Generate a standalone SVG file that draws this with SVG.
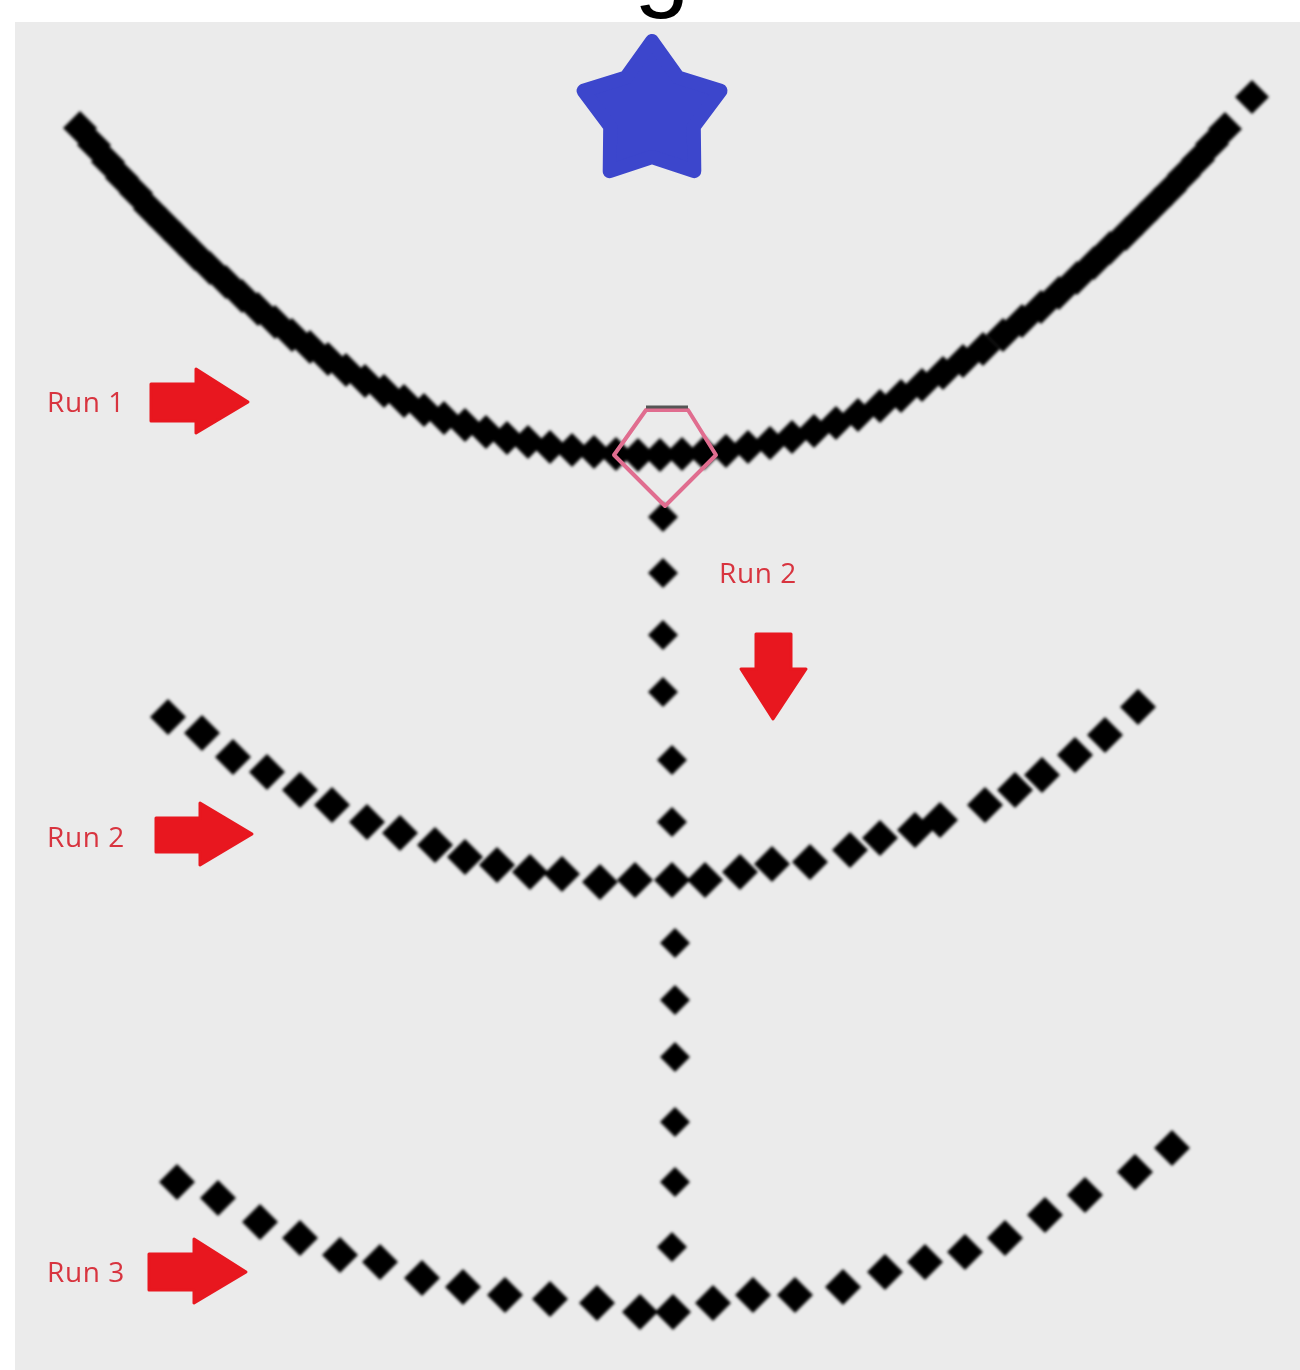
<svg xmlns="http://www.w3.org/2000/svg" xmlns:xlink="http://www.w3.org/1999/xlink" width="1300" height="1370" viewBox="0 0 1300 1370">
<style>
.lbl{font-family:"Open Sans","Noto Sans",sans-serif;font-size:28px;letter-spacing:0.6px;fill:#d8343f}
.arr{fill:#e8171f;stroke:#e8171f;stroke-width:3;stroke-linejoin:round}
.dots{fill:#000;filter:url(#soft)}
</style>
<defs>
<filter id="soft" x="-10%" y="-10%" width="120%" height="120%"><feGaussianBlur stdDeviation="1.6"/></filter>
<path id="a" d="M0,-17L17,0L0,17L-17,0Z"/>
<path id="b" d="M0,-18L18,0L0,18L-18,0Z"/>
<path id="c" d="M0,-15L15,0L0,15L-15,0Z"/>
</defs>
<rect x="0" y="0" width="1300" height="1370" fill="#ffffff"/>
<rect id="background" x="15" y="22" width="1285" height="1348" fill="#ebebeb"/>
<g id="title"><text x="634" y="-2" font-family="Liberation Sans,Arial,sans-serif" font-size="100" fill="#000">g</text></g>
<g id="star"><path d="M652,41L677.9,77.4L720.5,90.8L693.8,126.6L694.3,171.2L652,157L609.7,171.2L610.2,126.6L583.5,90.8L626.1,77.4Z" fill="#3c46cc" stroke="#3c46cc" stroke-width="14" stroke-linejoin="round"/></g>
<g id="run1-curve" class="dots">
<use href="#a" x="80" y="128"/><use href="#a" x="94" y="145"/><use href="#a" x="108" y="162"/><use href="#a" x="122" y="178"/><use href="#a" x="136" y="193"/><use href="#a" x="150" y="209"/><use href="#a" x="165" y="224"/><use href="#a" x="180" y="239"/><use href="#a" x="195" y="254"/><use href="#a" x="210" y="268"/><use href="#a" x="226" y="282"/><use href="#a" x="242" y="296"/><use href="#a" x="258" y="309"/><use href="#a" x="275" y="322"/><use href="#a" x="292" y="335"/><use href="#a" x="310" y="347"/><use href="#a" x="328" y="359"/><use href="#a" x="346" y="370"/><use href="#a" x="365" y="381"/><use href="#a" x="384" y="391"/><use href="#a" x="404" y="401"/><use href="#a" x="424" y="410"/><use href="#a" x="444" y="418"/><use href="#a" x="465" y="425"/><use href="#a" x="486" y="432"/><use href="#a" x="507" y="438"/><use href="#a" x="528" y="442"/><use href="#a" x="550" y="447"/><use href="#a" x="572" y="450"/><use href="#a" x="594" y="452"/><use href="#a" x="616" y="454"/><use href="#a" x="638" y="455"/><use href="#a" x="660" y="455"/>
<use href="#a" x="682" y="454"/><use href="#a" x="704" y="453"/><use href="#a" x="726" y="451"/><use href="#a" x="748" y="447"/><use href="#a" x="770" y="443"/><use href="#a" x="792" y="437"/><use href="#a" x="814" y="431"/><use href="#a" x="836" y="423"/><use href="#a" x="858" y="415"/><use href="#a" x="880" y="406"/><use href="#a" x="901" y="396"/><use href="#a" x="922" y="385"/><use href="#a" x="943" y="373"/><use href="#a" x="963" y="361"/><use href="#a" x="983" y="349"/><use href="#a" x="1003" y="335"/><use href="#a" x="1022" y="321"/><use href="#a" x="1041" y="307"/><use href="#a" x="1059" y="293"/><use href="#a" x="1077" y="278"/><use href="#a" x="1094" y="263"/><use href="#a" x="1110" y="248"/><use href="#a" x="1126" y="234"/><use href="#a" x="1141" y="219"/><use href="#a" x="1156" y="204"/><use href="#a" x="1170" y="190"/><use href="#a" x="1184" y="175"/><use href="#a" x="1198" y="160"/><use href="#a" x="1212" y="144"/><use href="#a" x="1225" y="129"/><use href="#a" x="1252" y="97"/>
</g>
<g id="vertical-run" class="dots">
<use href="#c" x="663" y="517"/><use href="#c" x="663" y="573"/><use href="#c" x="663" y="635"/><use href="#c" x="663" y="692"/><use href="#c" x="672" y="760"/><use href="#c" x="672" y="822"/><use href="#c" x="675" y="943"/><use href="#c" x="675" y="1000"/><use href="#c" x="675" y="1057"/><use href="#c" x="675" y="1122"/><use href="#c" x="675" y="1182"/><use href="#c" x="672" y="1247"/>
</g>
<g id="run2-curve" class="dots">
<use href="#b" x="168" y="717"/><use href="#b" x="202" y="733"/><use href="#b" x="233" y="757"/><use href="#b" x="267" y="772"/><use href="#b" x="300" y="790"/><use href="#b" x="332" y="805"/><use href="#b" x="367" y="822"/><use href="#b" x="400" y="833"/><use href="#b" x="435" y="845"/><use href="#b" x="465" y="857"/><use href="#b" x="497" y="865"/><use href="#b" x="530" y="872"/><use href="#b" x="562" y="874"/><use href="#b" x="600" y="882"/><use href="#b" x="635" y="880"/><use href="#b" x="672" y="880"/><use href="#b" x="705" y="880"/><use href="#b" x="740" y="872"/><use href="#b" x="772" y="864"/><use href="#b" x="810" y="862"/><use href="#b" x="850" y="850"/><use href="#b" x="880" y="838"/><use href="#b" x="915" y="830"/><use href="#b" x="940" y="820"/><use href="#b" x="985" y="805"/><use href="#b" x="1015" y="790"/><use href="#b" x="1042" y="775"/><use href="#b" x="1075" y="755"/><use href="#b" x="1105" y="735"/><use href="#b" x="1138" y="707"/>
</g>
<g id="run3-curve" class="dots">
<use href="#b" x="177" y="1182"/><use href="#b" x="218" y="1198"/><use href="#b" x="260" y="1222"/><use href="#b" x="300" y="1238"/><use href="#b" x="340" y="1255"/><use href="#b" x="380" y="1262"/><use href="#b" x="422" y="1278"/><use href="#b" x="463" y="1287"/><use href="#b" x="505" y="1295"/><use href="#b" x="550" y="1299"/><use href="#b" x="597" y="1303"/><use href="#b" x="640" y="1312"/><use href="#b" x="673" y="1312"/><use href="#b" x="713" y="1303"/><use href="#b" x="753" y="1295"/><use href="#b" x="795" y="1295"/><use href="#b" x="843" y="1287"/><use href="#b" x="885" y="1272"/><use href="#b" x="925" y="1262"/><use href="#b" x="965" y="1252"/><use href="#b" x="1005" y="1238"/><use href="#b" x="1045" y="1215"/><use href="#b" x="1085" y="1195"/><use href="#b" x="1135" y="1172"/><use href="#b" x="1172" y="1148"/>
</g>
<g id="highlight">
<path d="M646,410L688,410L716,455L665,506L614,455Z" fill="none" stroke="#e06d8f" stroke-width="4" stroke-linejoin="round"/>
<line x1="646" y1="407" x2="688" y2="407" stroke="#555" stroke-width="3"/>
</g>
<g id="label-run1"><text class="lbl" x="47" y="412">Run 1</text><path class="arr" d="M151,384L196,384L196,369L248,402L196,433L196,421L151,421Z"/></g>
<g id="label-run2-left"><text class="lbl" x="47" y="847">Run 2</text><path class="arr" d="M156,818L200,818L200,803L252,834L200,865L200,852L156,852Z"/></g>
<g id="label-run3"><text class="lbl" x="47" y="1282">Run 3</text><path class="arr" d="M149,1254L194,1254L194,1239L246,1272L194,1303L194,1290L149,1290Z"/></g>
<g id="label-run2-down"><text class="lbl" x="719" y="583">Run 2</text><path class="arr" d="M756,634L791,634L791,669L806,669L773,719L741,669L756,669Z"/></g>
</svg>
